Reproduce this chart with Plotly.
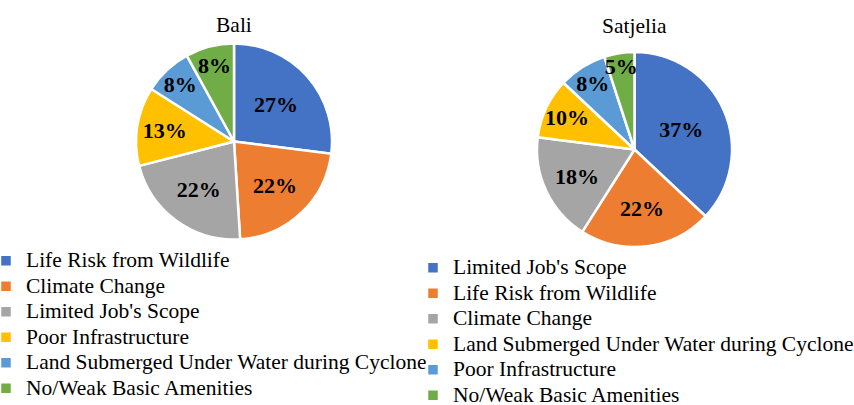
import plotly.graph_objects as go

bali_labels = ["Life Risk from Wildlife", "Climate Change", "Limited Job's Scope",
               "Poor Infrastructure", "Land Submerged Under Water during Cyclone",
               "No/Weak Basic Amenities"]
bali_values = [27, 22, 22, 13, 8, 8]

sat_labels = ["Limited Job's Scope", "Life Risk from Wildlife", "Climate Change",
              "Land Submerged Under Water during Cyclone", "Poor Infrastructure",
              "No/Weak Basic Amenities"]
sat_values = [37, 22, 18, 10, 8, 5]

colors = ["#4472C4", "#ED7D31", "#A5A5A5", "#FFC000", "#5B9BD5", "#70AD47"]

W, H = 854, 405
FONT = "Liberation Serif, Times New Roman, serif"
LEG_TEXT = 21.5   # glyph size of legend text
LEG_LINE = 17.3   # legend font size that sets the row pitch


def styled(labels, extra=""):
    # larger glyphs than the legend row pitch, as in the original chart;
    # `extra` keeps the two pies' legend entries distinct
    return ['<span style="font-size:%spx%s">%s</span>' % (LEG_TEXT, extra, s) for s in labels]


def dom(x0, x1, y0, y1):
    return dict(x=[x0 / W, x1 / W], y=[1 - y1 / H, 1 - y0 / H])


fig = go.Figure()
fig.add_trace(go.Pie(
    labels=styled(bali_labels), values=bali_values, sort=False, direction="clockwise",
    rotation=0, marker=dict(colors=colors, line=dict(color="white", width=2.5)),
    texttemplate="<b>%{value}%</b>", textposition="inside",
    insidetextorientation="horizontal",
    textfont=dict(family=FONT, size=22, color="black"),
    domain=dom(136, 332, 43, 240), legend="legend", hoverinfo="value",
))
fig.add_trace(go.Pie(
    labels=styled(sat_labels, ";"), values=sat_values, sort=False, direction="clockwise",
    rotation=0, marker=dict(colors=colors, line=dict(color="white", width=2.5)),
    texttemplate="<b>%{value}%</b>", textposition="inside",
    insidetextorientation="horizontal",
    textfont=dict(family=FONT, size=22, color="black"),
    domain=dom(537, 732, 51, 248), legend="legend2", hoverinfo="value",
))

fig.update_layout(
    width=W, height=H, margin=dict(l=0, r=0, t=0, b=0, autoexpand=False),
    paper_bgcolor="white", plot_bgcolor="white",
    font=dict(family=FONT, color="black"),
    uniformtext=dict(minsize=22, mode="show"),
    legend=dict(x=-14 / W, y=1 - 243 / H, xanchor="left", yanchor="top",
                font=dict(family=FONT, size=LEG_LINE, color="black"),
                bgcolor="rgba(0,0,0,0)", itemwidth=30, tracegroupgap=0),
    legend2=dict(x=413 / W, y=1 - 250 / H, xanchor="left", yanchor="top",
                 font=dict(family=FONT, size=LEG_LINE, color="black"),
                 bgcolor="rgba(0,0,0,0)", itemwidth=30, tracegroupgap=0),
    annotations=[
        dict(text="Bali", x=234 / W, y=1 - 25 / H, xref="paper", yref="paper",
             xanchor="center", yanchor="middle",
             showarrow=False, font=dict(family=FONT, size=21.5, color="black")),
        dict(text="Satjelia", x=634 / W, y=1 - 26 / H, xref="paper", yref="paper",
             xanchor="center", yanchor="middle",
             showarrow=False, font=dict(family=FONT, size=21.5, color="black")),
    ],
)

fig.write_html("out.html", config={"displayModeBar": False},
               post_script="document.body.style.margin='0px';")
